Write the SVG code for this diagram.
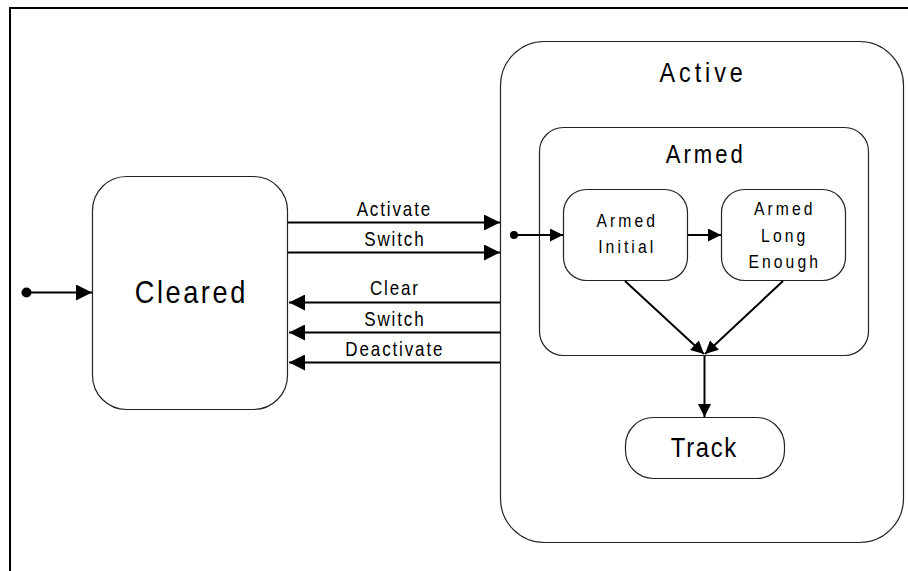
<svg xmlns="http://www.w3.org/2000/svg" width="908" height="571" viewBox="0 0 908 571">
  <defs>
    <marker id="head" viewBox="0 0 16 16" refX="16" refY="8" markerWidth="16" markerHeight="16" markerUnits="userSpaceOnUse" orient="auto">
      <path d="M0,0 L16,8 L0,16 Z" fill="#000"/>
    </marker>
    <marker id="headSmall" viewBox="0 0 13 13" refX="13" refY="6.5" markerWidth="13" markerHeight="13" markerUnits="userSpaceOnUse" orient="auto">
      <path d="M0,0 L13,6.5 L0,13 Z" fill="#000"/>
    </marker>
  </defs>
  <style>
    .state { fill: #fff; stroke: #222; stroke-width: 1.2; }
    .conn { fill: none; stroke: #000; stroke-width: 2; }
    .big { marker-end: url(#head); }
    .small { marker-end: url(#headSmall); }
    text { font-family: "Liberation Sans", Arial, sans-serif; fill: #000; text-anchor: middle; }
    .lbl { font-size: 20px; letter-spacing: 2.2px; }
    .sub { font-size: 18.5px; letter-spacing: 3.6px; }
  </style>

  <rect x="0" y="0" width="908" height="571" fill="#fff"/>
  <!-- page frame, open to the right and bottom -->
  <path d="M10,575 L10,8 L912,8" fill="none" stroke="#000" stroke-width="2"/>

  <!-- labels are drawn slightly condensed: translate to the anchor, then scale x -->
  <g id="cleared">
    <rect class="state" x="92.5" y="176.5" width="195" height="233" rx="34" ry="34"/>
    <text transform="translate(190,303) scale(0.85,1)" x="1.5" y="0" style="font-size:32px;letter-spacing:3px">Cleared</text>
  </g>

  <g id="active">
    <rect class="state" x="500.5" y="41.5" width="403" height="501" rx="44" ry="44"/>
    <text transform="translate(701,82) scale(0.85,1)" x="2.5" y="0" style="font-size:27.5px;letter-spacing:4.6px">Active</text>
  </g>

  <g id="armed">
    <rect class="state" x="539.5" y="127.5" width="329" height="228" rx="24" ry="24"/>
    <text transform="translate(704,162.5) scale(0.85,1)" x="2" y="0" style="font-size:26px;letter-spacing:3.5px">Armed</text>
  </g>

  <g id="armed-initial">
    <rect class="state" x="563.5" y="189.5" width="124" height="91" rx="23" ry="23"/>
    <text class="sub" transform="translate(625.5,227) scale(0.85,1)" x="2" y="0">Armed</text>
    <text class="sub" transform="translate(625.5,253) scale(0.85,1)" x="2" y="0">Initial</text>
  </g>

  <g id="armed-long-enough">
    <rect class="state" x="721.5" y="189.5" width="124" height="91" rx="23" ry="23"/>
    <text class="sub" transform="translate(783,215) scale(0.85,1)" x="2" y="0">Armed</text>
    <text class="sub" transform="translate(783,241.5) scale(0.85,1)" x="2" y="0">Long</text>
    <text class="sub" transform="translate(783,267.5) scale(0.85,1)" x="2" y="0">Enough</text>
  </g>

  <g id="track">
    <rect class="state" x="625.5" y="417.5" width="159" height="61" rx="28" ry="28"/>
    <text transform="translate(703.5,457) scale(0.85,1)" x="1" y="0" style="font-size:28px;letter-spacing:2px">Track</text>
  </g>

  <g id="connectors">
    <!-- initial pseudo-state into Cleared -->
    <circle cx="26.5" cy="292.5" r="5" fill="#000"/>
    <line class="conn big" x1="26.5" y1="292.5" x2="92" y2="292.5"/>

    <!-- Cleared to Active -->
    <line class="conn big" x1="288" y1="222.5" x2="500" y2="222.5"/>
    <text class="lbl" transform="translate(393.5,215.5) scale(0.85,1)" x="1" y="0">Activate</text>
    <line class="conn big" x1="288" y1="252.5" x2="500" y2="252.5"/>
    <text class="lbl" transform="translate(394,246) scale(0.85,1)" x="1" y="0">Switch</text>

    <!-- Active back to Cleared -->
    <line class="conn big" x1="500" y1="302.5" x2="289" y2="302.5"/>
    <text class="lbl" transform="translate(394,295) scale(0.85,1)" x="1" y="0">Clear</text>
    <line class="conn big" x1="500" y1="332.5" x2="289" y2="332.5"/>
    <text class="lbl" transform="translate(394,326) scale(0.85,1)" x="1" y="0">Switch</text>
    <line class="conn big" x1="500" y1="362.5" x2="289" y2="362.5"/>
    <text class="lbl" transform="translate(394,356) scale(0.85,1)" x="1" y="0">Deactivate</text>

    <!-- initial pseudo-state into Armed Initial -->
    <circle cx="514" cy="235" r="4" fill="#000"/>
    <line class="conn small" x1="514" y1="235" x2="563" y2="235"/>

    <!-- Armed Initial to Armed Long Enough -->
    <line class="conn small" x1="688" y1="235" x2="721" y2="235"/>

    <!-- both armed sub-states converge on the Armed boundary -->
    <line class="conn small" x1="625" y1="281" x2="704" y2="354"/>
    <line class="conn small" x1="783" y1="281" x2="705" y2="354"/>

    <!-- Armed to Track -->
    <line class="conn small" x1="704.5" y1="356" x2="704.5" y2="417"/>
  </g>
</svg>
